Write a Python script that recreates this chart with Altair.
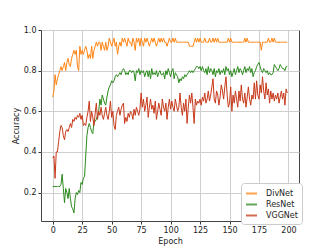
import altair as alt
import pandas as pd

series_names = ["DivNet", "ResNet", "VGGNet"]
series_colors = ["#ff8412", "#2a8a1c", "#c8391a"]

divnet = [
    0.67, 0.70, 0.78, 0.73, 0.76, 0.78, 0.80, 0.82, 0.80, 0.82,
    0.84, 0.80, 0.84, 0.86, 0.83, 0.82, 0.86, 0.88, 0.90, 0.88,
    0.90, 0.82, 0.80, 0.92, 0.88, 0.90, 0.88, 0.90, 0.92, 0.90,
    0.86, 0.88, 0.86, 0.92, 0.86, 0.90, 0.92, 0.94, 0.92, 0.94,
    0.94, 0.90, 0.94, 0.92, 0.90, 0.94, 0.90, 0.92, 0.96, 0.94,
    0.92, 0.94, 0.96, 0.92, 0.94, 0.88, 0.92, 0.94, 0.92, 0.96,
    0.94, 0.96, 0.94, 0.92, 0.96, 0.94, 0.94, 0.92, 0.96, 0.94,
    0.90, 0.96, 0.94, 0.96, 0.92, 0.96, 0.94, 0.92, 0.96, 0.94,
    0.96, 0.94, 0.92, 0.94, 0.96, 0.94, 0.96, 0.94, 0.92, 0.94,
    0.96, 0.94, 0.96, 0.94, 0.96, 0.94, 0.94, 0.92, 0.94, 0.96,
    0.94, 0.94, 0.96, 0.94, 0.96, 0.94, 0.94, 0.94, 0.94, 0.94,
    0.94, 0.94, 0.94, 0.94, 0.94, 0.94, 0.92, 0.92, 0.92, 0.92,
    0.94, 0.96, 0.94, 0.96, 0.94, 0.96, 0.94, 0.94, 0.94, 0.96,
    0.94, 0.94, 0.94, 0.96, 0.94, 0.94, 0.96, 0.94, 0.96, 0.94,
    0.96, 0.94, 0.94, 0.94, 0.94, 0.94, 0.94, 0.94, 0.94, 0.96,
    0.94, 0.96, 0.94, 0.94, 0.94, 0.94, 0.94, 0.94, 0.94, 0.94,
    0.94, 0.94, 0.94, 0.96, 0.94, 0.96, 0.94, 0.94, 0.94, 0.94,
    0.94, 0.94, 0.94, 0.94, 0.94, 0.94, 0.94, 0.90, 0.94, 0.94,
    0.94, 0.94, 0.94, 0.96, 0.94, 0.94, 0.96, 0.94, 0.96, 0.94,
    0.94, 0.94, 0.94, 0.94, 0.94, 0.94, 0.94, 0.94, 0.94, 0.94,
]

resnet = [
    0.23, 0.23, 0.23, 0.23, 0.23, 0.23, 0.23, 0.24, 0.29, 0.22,
    0.15, 0.22, 0.20, 0.17, 0.22, 0.17, 0.13, 0.12, 0.10, 0.17,
    0.20, 0.19, 0.21, 0.20, 0.25, 0.24, 0.27, 0.28, 0.38, 0.48,
    0.52, 0.54, 0.52, 0.50, 0.49, 0.55, 0.55, 0.56, 0.58, 0.60,
    0.66, 0.63, 0.68, 0.66, 0.64, 0.63, 0.67, 0.70, 0.72, 0.73,
    0.75, 0.74, 0.75, 0.77, 0.78, 0.77, 0.78, 0.79, 0.78, 0.80,
    0.81, 0.80, 0.78, 0.79, 0.78, 0.80, 0.80, 0.79, 0.80, 0.79,
    0.75, 0.80, 0.79, 0.81, 0.78, 0.80, 0.79, 0.80, 0.77, 0.79,
    0.80, 0.77, 0.80, 0.76, 0.81, 0.78, 0.79, 0.78, 0.80, 0.77,
    0.79, 0.80, 0.78, 0.78, 0.79, 0.76, 0.80, 0.78, 0.81, 0.79,
    0.77, 0.80, 0.81, 0.76, 0.79, 0.78, 0.77, 0.74, 0.76, 0.75,
    0.77, 0.76, 0.78, 0.77, 0.78, 0.79, 0.80, 0.79, 0.80, 0.79,
    0.80, 0.81, 0.82, 0.82, 0.81, 0.82, 0.80, 0.82, 0.80, 0.79,
    0.81, 0.78, 0.82, 0.79, 0.81, 0.80, 0.78, 0.81, 0.77, 0.80,
    0.79, 0.81, 0.78, 0.80, 0.79, 0.81, 0.78, 0.82, 0.80, 0.81,
    0.78, 0.80, 0.77, 0.79, 0.81, 0.78, 0.80, 0.82, 0.79, 0.81,
    0.80, 0.78, 0.80, 0.82, 0.79, 0.81, 0.80, 0.82, 0.79, 0.81,
    0.77, 0.79, 0.80, 0.82, 0.83, 0.84, 0.82, 0.80, 0.79, 0.81,
    0.80, 0.79, 0.80, 0.78, 0.79, 0.78, 0.78, 0.79, 0.83, 0.82,
    0.81, 0.80, 0.81, 0.83, 0.82, 0.81, 0.81, 0.80, 0.82, 0.82,
]

vggnet = [
    0.37, 0.38, 0.27, 0.40, 0.40, 0.45, 0.50, 0.53, 0.52, 0.48,
    0.46, 0.50, 0.51, 0.50, 0.52, 0.54, 0.52, 0.56, 0.55, 0.57,
    0.56, 0.58, 0.57, 0.59, 0.56, 0.58, 0.53, 0.54, 0.53, 0.57,
    0.60, 0.65, 0.55, 0.60, 0.57, 0.53, 0.59, 0.64, 0.56, 0.60,
    0.58, 0.62, 0.58, 0.56, 0.59, 0.62, 0.58, 0.56, 0.60, 0.65,
    0.57, 0.60, 0.53, 0.51, 0.58, 0.60, 0.62, 0.58, 0.61, 0.63,
    0.64, 0.54, 0.57, 0.55, 0.59, 0.57, 0.60, 0.59, 0.56, 0.61,
    0.58, 0.62, 0.60, 0.58, 0.61, 0.69, 0.62, 0.66, 0.60, 0.63,
    0.67, 0.57, 0.62, 0.66, 0.61, 0.63, 0.59, 0.65, 0.56, 0.60,
    0.64, 0.61, 0.58, 0.66, 0.62, 0.60, 0.64, 0.56, 0.62, 0.66,
    0.61, 0.65, 0.62, 0.60, 0.66, 0.63, 0.60, 0.62, 0.69, 0.62,
    0.58, 0.64, 0.60, 0.66, 0.54, 0.62, 0.68, 0.64, 0.69, 0.62,
    0.54, 0.66, 0.63, 0.65, 0.64, 0.66, 0.63, 0.67, 0.65, 0.69,
    0.64, 0.66, 0.70, 0.65, 0.68, 0.72, 0.76, 0.66, 0.64, 0.70,
    0.68, 0.63, 0.67, 0.73, 0.70, 0.66, 0.72, 0.77, 0.68, 0.62,
    0.64, 0.72, 0.60, 0.68, 0.64, 0.70, 0.66, 0.62, 0.70, 0.65,
    0.73, 0.66, 0.64, 0.69, 0.62, 0.67, 0.72, 0.66, 0.63, 0.68,
    0.66, 0.74, 0.66, 0.75, 0.68, 0.66, 0.73, 0.69, 0.77, 0.70,
    0.66, 0.74, 0.68, 0.71, 0.64, 0.70, 0.66, 0.69, 0.65, 0.68,
    0.66, 0.69, 0.64, 0.67, 0.70, 0.66, 0.69, 0.63, 0.71, 0.69,
]

x_ticks = [0, 25, 50, 75, 100, 125, 150, 175, 200]
y_ticks = [0.2, 0.4, 0.6, 0.8, 1.0]

rows = []
for name, vals in zip(series_names, [divnet, resnet, vggnet]):
    for i, v in enumerate(vals):
        rows.append({"Epoch": i, "Accuracy": v, "Model": name})
df = pd.DataFrame(rows)

chart = alt.Chart(df).mark_line(strokeWidth=1.0).encode(
    x=alt.X("Epoch:Q",
            scale=alt.Scale(domain=[-9.95, 208.95], nice=False, zero=False),
            axis=alt.Axis(values=x_ticks, title="Epoch", format="d")),
    y=alt.Y("Accuracy:Q",
            scale=alt.Scale(domain=[0.06, 1.0], nice=False, zero=False),
            axis=alt.Axis(values=y_ticks, title="Accuracy", format=".1f")),
    color=alt.Color("Model:N",
                    scale=alt.Scale(domain=series_names, range=series_colors),
                    legend=alt.Legend(title=None, orient="none",
                                      legendX=200, legendY=153,
                                      symbolType="stroke", symbolSize=121,
                                      symbolStrokeWidth=2, symbolOpacity=0.75,
                                      labelFontSize=8, labelFont="DejaVu Sans",
                                      labelColor="#222", labelOffset=8,
                                      fillColor="white", strokeColor="#cccccc",
                                      cornerRadius=3, padding=4, rowPadding=0)),
    order=alt.Order("Epoch:Q"),
).properties(
    width=258, height=191,
    autosize=alt.AutoSizeParams(type="none"),
    padding={"left": 33, "top": 22, "right": 25, "bottom": 30},
).configure_view(
    stroke="#444444", strokeWidth=1
).configure_axis(
    labelFont="DejaVu Sans", titleFont="DejaVu Sans",
    labelFontSize=8, titleFontSize=8, titleFontWeight="normal",
    labelColor="#222", titleColor="#222",
    tickColor="#333", tickSize=3, domain=False,
    gridColor="#cfcfcf", gridWidth=1, labelPadding=2, titlePadding=3,
)

chart.save("out.html", embed_options={"renderer": "svg", "actions": False})
